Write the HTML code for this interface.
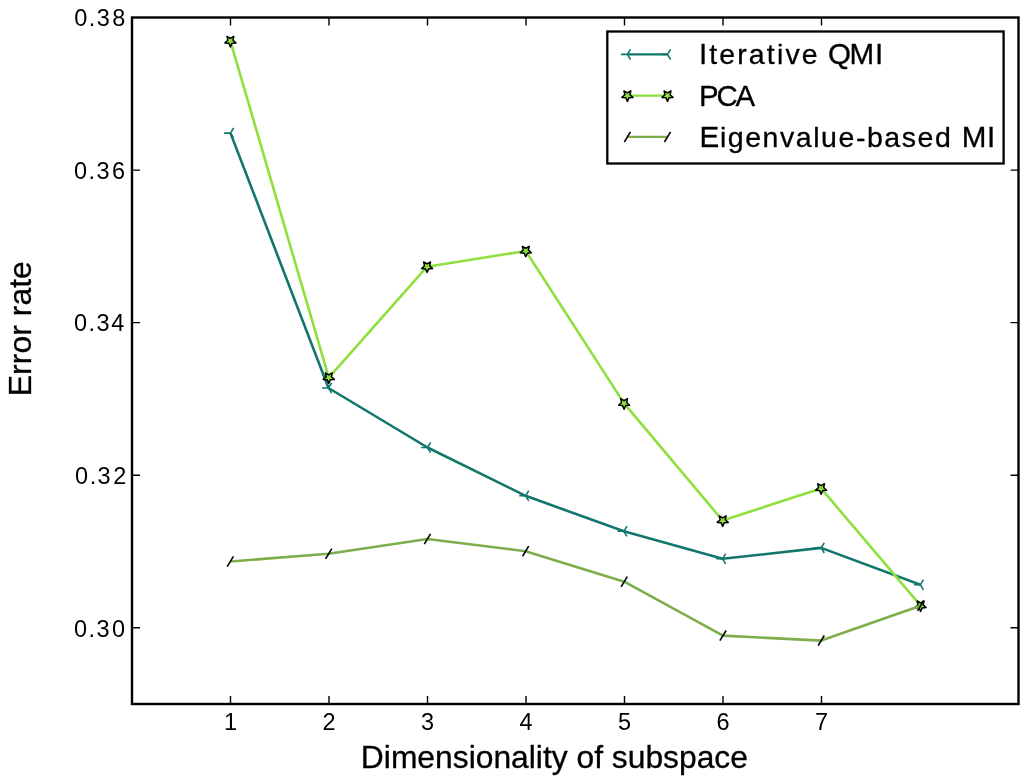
<!DOCTYPE html>
<html lang="en"><head><meta charset="utf-8"><title>Error rate vs. dimensionality of subspace</title>
<style>html,body{margin:0;padding:0;background:#fff}svg{display:block}text{font-family:"Liberation Sans",Arial,Helvetica,sans-serif;fill:#000}.b{stroke:#000;stroke-width:.3px;stroke-linejoin:round}</style></head><body>
<svg width="1024" height="782" viewBox="0 0 1024 782">
<rect width="1024" height="782" fill="#fff"/>
<polyline points="230.5,133.1 328.5,388.0 427.5,447.5 525.6,495.8 623.9,531.3 722.6,558.8 821.2,547.9 920.4,584.8" fill="none" stroke="#12766c" stroke-width="2.6" stroke-linejoin="round"/>
<path d="M230.5 133.1h-6.4M230.5 133.1l3.1 -5.1M230.5 133.1l3.1 5.1" stroke="#12766c" stroke-width="1.6" fill="none"/><path d="M328.5 388.0h-6.4M328.5 388.0l3.1 -5.1M328.5 388.0l3.1 5.1" stroke="#12766c" stroke-width="1.6" fill="none"/><path d="M427.5 447.5h-6.4M427.5 447.5l3.1 -5.1M427.5 447.5l3.1 5.1" stroke="#12766c" stroke-width="1.6" fill="none"/><path d="M525.6 495.8h-6.4M525.6 495.8l3.1 -5.1M525.6 495.8l3.1 5.1" stroke="#12766c" stroke-width="1.6" fill="none"/><path d="M623.9 531.3h-6.4M623.9 531.3l3.1 -5.1M623.9 531.3l3.1 5.1" stroke="#12766c" stroke-width="1.6" fill="none"/><path d="M722.6 558.8h-6.4M722.6 558.8l3.1 -5.1M722.6 558.8l3.1 5.1" stroke="#12766c" stroke-width="1.6" fill="none"/><path d="M821.2 547.9h-6.4M821.2 547.9l3.1 -5.1M821.2 547.9l3.1 5.1" stroke="#12766c" stroke-width="1.6" fill="none"/><path d="M920.4 584.8h-6.4M920.4 584.8l3.1 -5.1M920.4 584.8l3.1 5.1" stroke="#12766c" stroke-width="1.6" fill="none"/>
<polyline points="230.4,41.1 328.8,377.6 427.1,266.7 525.8,251.0 624.1,403.4 722.7,520.6 821.1,488.4 920.6,605.7" fill="none" stroke="#8ee03c" stroke-width="2.6" stroke-linejoin="round"/>
<polygon points="230.40,46.90 228.80,43.31 224.88,42.89 227.81,40.26 226.99,36.41 230.40,38.37 233.81,36.41 232.99,40.26 235.92,42.89 232.00,43.31" fill="#8ee03c" stroke="#000" stroke-width="1.5" stroke-linejoin="round"/><polygon points="328.80,383.40 327.20,379.81 323.28,379.39 326.21,376.76 325.39,372.91 328.80,374.87 332.21,372.91 331.39,376.76 334.32,379.39 330.40,379.81" fill="#8ee03c" stroke="#000" stroke-width="1.5" stroke-linejoin="round"/><polygon points="427.10,272.50 425.50,268.91 421.58,268.49 424.51,265.86 423.69,262.01 427.10,263.97 430.51,262.01 429.69,265.86 432.62,268.49 428.70,268.91" fill="#8ee03c" stroke="#000" stroke-width="1.5" stroke-linejoin="round"/><polygon points="525.80,256.80 524.20,253.21 520.28,252.79 523.21,250.16 522.39,246.31 525.80,248.27 529.21,246.31 528.39,250.16 531.32,252.79 527.40,253.21" fill="#8ee03c" stroke="#000" stroke-width="1.5" stroke-linejoin="round"/><polygon points="624.10,409.20 622.50,405.61 618.58,405.19 621.51,402.56 620.69,398.71 624.10,400.67 627.51,398.71 626.69,402.56 629.62,405.19 625.70,405.61" fill="#8ee03c" stroke="#000" stroke-width="1.5" stroke-linejoin="round"/><polygon points="722.70,526.40 721.10,522.81 717.18,522.39 720.11,519.76 719.29,515.91 722.70,517.87 726.11,515.91 725.29,519.76 728.22,522.39 724.30,522.81" fill="#8ee03c" stroke="#000" stroke-width="1.5" stroke-linejoin="round"/><polygon points="821.10,494.20 819.50,490.61 815.58,490.19 818.51,487.56 817.69,483.71 821.10,485.67 824.51,483.71 823.69,487.56 826.62,490.19 822.70,490.61" fill="#8ee03c" stroke="#000" stroke-width="1.5" stroke-linejoin="round"/><polygon points="920.60,611.50 919.00,607.91 915.08,607.49 918.01,604.86 917.19,601.01 920.60,602.97 924.01,601.01 923.19,604.86 926.12,607.49 922.20,607.91" fill="#8ee03c" stroke="#000" stroke-width="1.5" stroke-linejoin="round"/>
<polyline points="230.3,561.5 328.7,553.8 427.4,539.0 525.6,551.2 624.2,581.7 723.0,635.6 821.2,640.6 920.6,605.7" fill="none" stroke="#7dae4b" stroke-width="2.6" stroke-linejoin="round"/>
<path d="M227.2 566.6L233.4 556.4" stroke="#000" stroke-width="1.6" fill="none"/><path d="M325.6 558.9L331.8 548.7" stroke="#000" stroke-width="1.6" fill="none"/><path d="M424.3 544.1L430.5 533.9" stroke="#000" stroke-width="1.6" fill="none"/><path d="M522.5 556.3L528.7 546.1" stroke="#000" stroke-width="1.6" fill="none"/><path d="M621.1 586.8L627.3 576.6" stroke="#000" stroke-width="1.6" fill="none"/><path d="M719.9 640.7L726.1 630.5" stroke="#000" stroke-width="1.6" fill="none"/><path d="M818.1 645.7L824.3 635.5" stroke="#000" stroke-width="1.6" fill="none"/><path d="M917.5 610.8L923.7 600.6" stroke="#000" stroke-width="1.6" fill="none"/>
<path d="M230.5 704.0v-8M230.5 17.5v8M329.0 704.0v-8M329.0 17.5v8M427.5 704.0v-8M427.5 17.5v8M526.0 704.0v-8M526.0 17.5v8M624.5 704.0v-8M624.5 17.5v8M723.0 704.0v-8M723.0 17.5v8M821.5 704.0v-8M821.5 17.5v8M132.0 627.7h8M1018.5 627.7h-8M132.0 475.2h8M1018.5 475.2h-8M132.0 322.6h8M1018.5 322.6h-8M132.0 170.1h8M1018.5 170.1h-8" stroke="#000" stroke-width="1.4" fill="none"/>
<rect x="132.0" y="17.5" width="886.5" height="686.5" fill="none" stroke="#000" stroke-width="2.4"/>
<text x="230.5" y="729.6" font-size="23.5" text-anchor="middle">1</text>
<text x="329.0" y="729.6" font-size="23.5" text-anchor="middle">2</text>
<text x="427.5" y="729.6" font-size="23.5" text-anchor="middle">3</text>
<text x="526.0" y="729.6" font-size="23.5" text-anchor="middle">4</text>
<text x="624.5" y="729.6" font-size="23.5" text-anchor="middle">5</text>
<text x="723.0" y="729.6" font-size="23.5" text-anchor="middle">6</text>
<text x="821.5" y="729.6" font-size="23.5" text-anchor="middle">7</text>
<text x="74.0" y="636.5" font-size="23.5" letter-spacing="1.45" dx="0 0 0 1">0.30</text>
<text x="75.1" y="484.2" font-size="23.5" letter-spacing="1.45" dx="0 0 0 1">0.32</text>
<text x="74.0" y="330.9" font-size="23.5" letter-spacing="1.45" dx="0 0 0 0.2">0.34</text>
<text x="74.0" y="178.7" font-size="23.5" letter-spacing="1.45" dx="0 0 0 1">0.36</text>
<text x="74.2" y="25.8" font-size="23.5" letter-spacing="1.45" dx="0 0 0 1">0.38</text>
<text class="b" x="554.4" y="768.0" font-size="31.8" text-anchor="middle">Dimensionality of subspace</text>
<text class="b" transform="translate(31.0 328.7) rotate(-90)" font-size="32" text-anchor="middle">Error rate</text>
<rect x="607.3" y="31.5" width="396.3" height="132.0" fill="#fff" stroke="#000" stroke-width="2.3"/>
<path d="M627.4 54.4H667.5" stroke="#12766c" stroke-width="2.1"/><path d="M627.4 54.4h-6.4M627.4 54.4l3.1 -5.1M627.4 54.4l3.1 5.1" stroke="#12766c" stroke-width="1.6" fill="none"/><path d="M667.5 54.4h-6.4M667.5 54.4l3.1 -5.1M667.5 54.4l3.1 5.1" stroke="#12766c" stroke-width="1.6" fill="none"/>
<path d="M627.4 95.6H667.5" stroke="#8ee03c" stroke-width="2.1"/><polygon points="627.40,101.40 625.80,97.81 621.88,97.39 624.81,94.76 623.99,90.91 627.40,92.87 630.81,90.91 629.99,94.76 632.92,97.39 629.00,97.81" fill="#8ee03c" stroke="#000" stroke-width="1.5" stroke-linejoin="round"/><polygon points="667.50,101.40 665.90,97.81 661.98,97.39 664.91,94.76 664.09,90.91 667.50,92.87 670.91,90.91 670.09,94.76 673.02,97.39 669.10,97.81" fill="#8ee03c" stroke="#000" stroke-width="1.5" stroke-linejoin="round"/>
<path d="M627.4 136.9H667.5" stroke="#7dae4b" stroke-width="2.1"/><path d="M624.3 142.0L630.5 131.8" stroke="#000" stroke-width="1.6" fill="none"/><path d="M664.4 142.0L670.6 131.8" stroke="#000" stroke-width="1.6" fill="none"/>
<text class="b" x="699.0" y="64.1" font-size="28.5"><tspan font-size="29.6" letter-spacing="1.9">I</tspan><tspan letter-spacing="2.15">terative</tspan><tspan letter-spacing="0.3"> </tspan><tspan font-size="29.6" letter-spacing="-1.6">Q</tspan><tspan font-size="29.6" letter-spacing="1.0">MI</tspan></text>
<text class="b" x="699.1" y="105.8" font-size="29.4" letter-spacing="-2.2">PCA</text>
<text class="b" x="699.4" y="146.6" font-size="28.5" letter-spacing="1.55"><tspan font-size="29.6" letter-spacing="0.8">E</tspan>igenvalue-based <tspan font-size="29.6" letter-spacing="0.6">MI</tspan></text>
</svg></body></html>
